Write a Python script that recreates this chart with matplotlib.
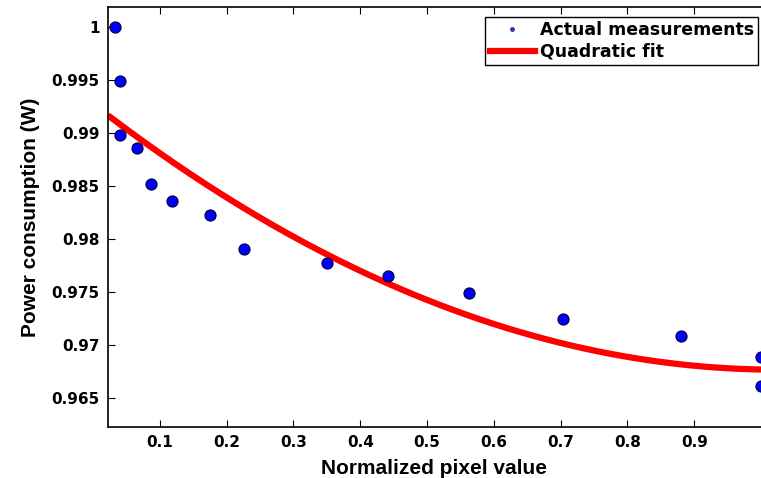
import numpy as np
import matplotlib
matplotlib.use("Agg")
import matplotlib.pyplot as plt
from matplotlib.lines import Line2D
from matplotlib.ticker import FuncFormatter

pixel = [0.0328, 0.040, 0.040, 0.0652, 0.0866, 0.1175, 0.1746, 0.2258,
         0.3496, 0.4412, 0.563, 0.7042, 0.8808, 1.0, 1.0]
power = [1.0, 0.9949, 0.9898, 0.9886, 0.9852, 0.9836, 0.9823, 0.9791,
         0.9778, 0.9765, 0.9749, 0.9725, 0.9709, 0.9689, 0.9662]

# samples of the red fit curve
curve_x = [0.0256, 0.1595, 0.3034, 0.472, 0.5762, 0.6506, 0.6952, 0.8738, 1.0]
curve_y = [0.99173, 0.98528, 0.98009, 0.97506, 0.97255, 0.97128, 0.97019,
           0.96814, 0.96774]

xticks = [0.1, 0.2, 0.3, 0.4, 0.5, 0.6, 0.7, 0.8, 0.9]
yticks = [0.965, 0.97, 0.975, 0.98, 0.985, 0.99, 0.995, 1.0]

coef = np.polyfit(curve_x, curve_y, 2)
xfit = np.linspace(0.0224, 1.0, 200)
yfit = np.polyval(coef, xfit)

fig = plt.figure(figsize=(7.61, 4.78), dpi=100)
ax = fig.add_axes([0.1419, 0.1067, 0.8581, 0.8787])

ax.plot(xfit, yfit, color="red", lw=4.5, solid_capstyle="butt", zorder=2)
ax.plot(pixel, power, "o", color="blue", mec="#000033", mew=0.8,
        ms=8, zorder=3, clip_on=False)

ax.set_xlim(0.0224, 1.0)
ax.set_ylim(0.9623, 1.0019)
ax.set_xticks(xticks)
ax.set_yticks(yticks)
ax.yaxis.set_major_formatter(FuncFormatter(lambda v, p: "%g" % v))
ax.tick_params(direction="in", length=5, width=0.8, top=True, right=False,
               labelsize=11, pad=6)
for lab in ax.get_xticklabels() + ax.get_yticklabels():
    lab.set_fontfamily("DejaVu Sans")
    lab.set_fontweight("bold")
ax.spines["right"].set_visible(False)
for s in ["left", "top", "bottom"]:
    ax.spines[s].set_linewidth(1.2)

ax.set_xlabel("Normalized pixel value", fontsize=15, fontweight="bold",
              family="Liberation Sans", labelpad=6)
ax.set_ylabel("Power consumption (W)", fontsize=15, fontweight="bold",
              family="Liberation Sans", labelpad=8)

handles = [Line2D([], [], ls="none", marker=".", color="#5522aa", ms=5),
           Line2D([], [], color="red", lw=4.5)]
leg = ax.legend(handles, ["Actual measurements", "Quadratic fit"],
                loc="upper right", bbox_to_anchor=(0.996, 0.976),
                prop={"family": "DejaVu Sans", "weight": "bold", "size": 12.5},
                fancybox=False, edgecolor="black", framealpha=1,
                borderpad=0.25, labelspacing=0.2, handlelength=2.6,
                handletextpad=0.3, borderaxespad=0)
leg.get_frame().set_linewidth(1.0)

fig.savefig("out.png", dpi=100)
